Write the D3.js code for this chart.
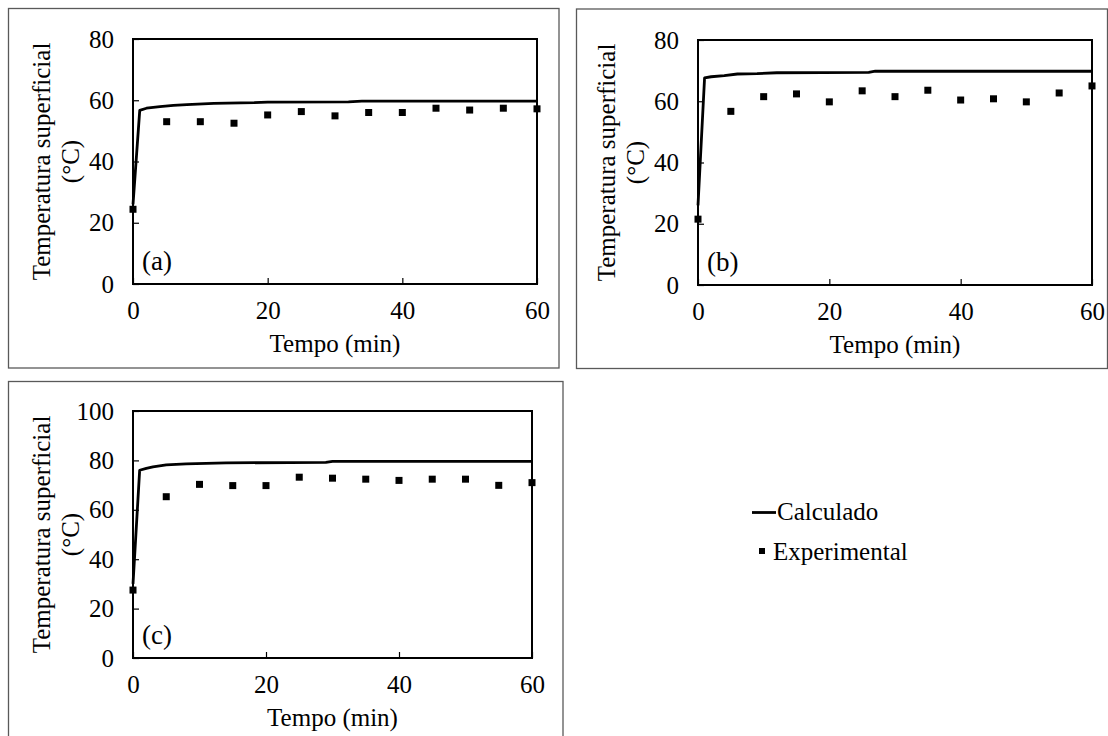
<!DOCTYPE html>
<html>
<head>
<meta charset="utf-8">
<script src="https://cdn.jsdelivr.net/npm/d3@7/dist/d3.min.js"></script>
<style>
  html, body { margin: 0; padding: 0; background: #fff; }
  svg { display: block; }
  text { font-family: "Liberation Serif", Tinos, "Times New Roman", "DejaVu Serif", "Noto Serif", serif; fill: #000; }
</style>
</head>
<body>
<svg id="chart" width="1108" height="736"></svg>
<script>
// Experimental sampling times (min) and measured surface temperatures (°C)
var expTime = [0, 5, 10, 15, 20, 25, 30, 35, 40, 45, 50, 55, 60];
var expA = [24.4, 53.0, 53.0, 52.5, 55.2, 56.3, 54.9, 56.0, 56.0, 57.4, 56.8, 57.4, 57.2];
var expB = [21.5, 56.7, 61.5, 62.4, 59.8, 63.4, 61.5, 63.6, 60.4, 60.8, 59.8, 62.7, 65.0];
var expC = [27.5, 65.3, 70.3, 69.8, 69.8, 73.2, 72.8, 72.4, 71.9, 72.4, 72.4, 69.9, 71.0];

// Calculated curves
var calcTimeA = [0, 1, 2, 4, 6, 8, 12, 18, 20, 32, 34, 60];
var calcA = [26, 56.7, 57.4, 57.9, 58.3, 58.6, 59.0, 59.2, 59.4, 59.5, 59.7, 59.7];
var calcTimeB = [0, 1, 2, 4, 6, 9, 12, 26, 27, 60];
var calcB = [26, 67.6, 68.0, 68.4, 68.9, 69.0, 69.3, 69.4, 69.8, 69.8];
var calcTimeC = [0, 1, 2, 3, 5, 8, 14, 29, 30, 60];
var calcC = [30, 76.0, 76.8, 77.4, 78.2, 78.6, 79.0, 79.2, 79.6, 79.6];

// Tick labels
var xTicks = [0, 20, 40, 60];
var yTicksAB = [0, 20, 40, 60, 80];
var yTicksC = [0, 20, 40, 60, 80, 100];

var panelLabels = ["(a)", "(b)", "(c)"];
var legendLabels = ["Calculado", "Experimental"];

var svg = d3.select("#chart");
var fontSize = 25;
var fontStack = "'Liberation Serif', Tinos, 'Times New Roman', 'DejaVu Serif', 'Noto Serif', serif";

// Panel layout: outer box and plot area
var panels = [
  { box: [8.5, 8.5, 559, 368], plot: [133, 39, 537, 284], ymax: 80, yTicks: yTicksAB,
    calcT: calcTimeA, calc: calcA, exp: expA, label: panelLabels[0] },
  { box: [576.5, 9, 1107.5, 368.5], plot: [698, 40, 1092, 285], ymax: 80, yTicks: yTicksAB,
    calcT: calcTimeB, calc: calcB, exp: expB, label: panelLabels[1] },
  { box: [8.5, 381.5, 563, 745], plot: [133, 411, 532, 658], ymax: 100, yTicks: yTicksC,
    calcT: calcTimeC, calc: calcC, exp: expC, label: panelLabels[2] }
];

panels.forEach(drawPanel);

function drawPanel(p) {
  var g = svg.append("g");
  var L = p.plot[0], T = p.plot[1], R = p.plot[2], B = p.plot[3];

  // outer grey box
  g.append("rect")
    .attr("x", p.box[0]).attr("y", p.box[1])
    .attr("width", p.box[2] - p.box[0]).attr("height", p.box[3] - p.box[1])
    .attr("fill", "none").attr("stroke", "#595959").attr("stroke-width", 1.3);

  var x = d3.scaleLinear().domain([0, 60]).range([L, R]);
  var y = d3.scaleLinear().domain([0, p.ymax]).range([B, T]);

  // axes with inward ticks
  var xAxis = g.append("g")
    .attr("transform", "translate(0," + B + ")")
    .call(d3.axisBottom(x).tickValues(xTicks).tickSizeInner(-6).tickSizeOuter(0).tickPadding(17));
  var yAxis = g.append("g")
    .attr("transform", "translate(" + L + ",0)")
    .call(d3.axisLeft(y).tickValues(p.yTicks).tickSizeInner(-6).tickSizeOuter(0).tickPadding(19));

  [xAxis, yAxis].forEach(function(a) {
    a.attr("font-family", null).attr("font-size", null);
    a.select(".domain").remove();
    a.selectAll("line").attr("stroke", "#000").attr("stroke-width", 1.2);
    a.selectAll("text").style("font-size", fontSize + "px")
      .style("font-family", fontStack).attr("fill", "#000");
  });

  // plot frame
  g.append("rect")
    .attr("x", L).attr("y", T).attr("width", R - L).attr("height", B - T)
    .attr("fill", "none").attr("stroke", "#000").attr("stroke-width", 2);

  // calculated curve
  var line = d3.line()
    .x(function(d) { return x(d[0]); })
    .y(function(d) { return y(d[1]); });
  g.append("path")
    .datum(d3.zip(p.calcT, p.calc))
    .attr("d", line)
    .attr("fill", "none").attr("stroke", "#000").attr("stroke-width", 2.8)
    .attr("stroke-linejoin", "round");

  // experimental points
  var s = 7;
  g.selectAll(".pt")
    .data(d3.zip(expTime, p.exp))
    .enter().append("rect")
    .attr("class", "pt")
    .attr("x", function(d) { return x(d[0]) - s / 2; })
    .attr("y", function(d) { return y(d[1]) - s / 2; })
    .attr("width", s).attr("height", s)
    .attr("fill", "#000");

  // panel letter
  g.append("text")
    .attr("x", L + 9).attr("y", B - 14)
    .style("font-size", "27px").style("font-family", fontStack)
    .text(p.label);

  // y title, two lines
  var yt = g.append("g")
    .attr("transform", "translate(" + (L - 83) + "," + ((T + B) / 2) + ") rotate(-90)");
  yt.append("text").attr("text-anchor", "middle").attr("y", 0)
    .style("font-size", fontSize + "px").style("font-family", fontStack)
    .text("Temperatura superficial");
  yt.append("text").attr("text-anchor", "middle").attr("y", 29)
    .style("font-size", fontSize + "px").style("font-family", fontStack)
    .text("(°C)");

  // x title
  g.append("text")
    .attr("x", (L + R) / 2).attr("y", B + 68)
    .attr("text-anchor", "middle")
    .style("font-size", fontSize + "px").style("font-family", fontStack)
    .text("Tempo (min)");
}

// legend
var lg = svg.append("g");
lg.append("line")
  .attr("x1", 752).attr("x2", 776).attr("y1", 512.5).attr("y2", 512.5)
  .attr("stroke", "#000").attr("stroke-width", 2.8);
lg.append("text").attr("x", 777).attr("y", 520)
  .style("font-size", fontSize + "px").style("font-family", fontStack)
  .text(legendLabels[0]);
lg.append("rect")
  .attr("x", 759).attr("y", 548).attr("width", 6).attr("height", 6)
  .attr("fill", "#000");
lg.append("text").attr("x", 773).attr("y", 560)
  .style("font-size", fontSize + "px").style("font-family", fontStack)
  .text(legendLabels[1]);
</script>
</body>
</html>
